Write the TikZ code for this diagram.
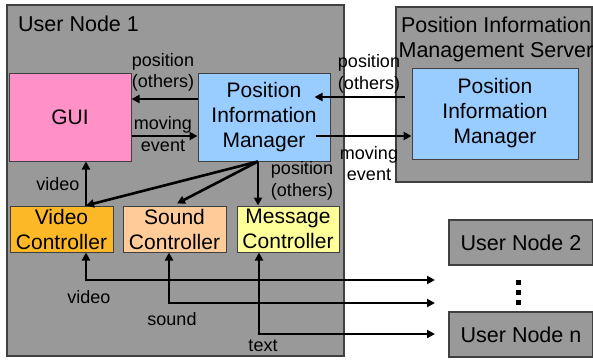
\documentclass[tikz,border=0pt]{standalone}
\usepackage{fontspec}
\setmainfont{Liberation Sans}
\usetikzlibrary{arrows.meta}
\definecolor{panelgray}{HTML}{999999}
\definecolor{edgegray}{HTML}{404040}
\definecolor{pimblue}{HTML}{99CCFF}
\definecolor{guipink}{HTML}{FF90C8}
\definecolor{vidorange}{HTML}{FDB827}
\definecolor{sndpeach}{HTML}{FFCC99}
\definecolor{msgyellow}{HTML}{FFFF99}
\tikzset{
  panel/.style={draw=edgegray, line width=1.2pt, fill=panelgray},
  unit/.style={draw=edgegray, line width=1pt, align=center, inner sep=0pt,
    font=\fontsize{21}{25}\selectfont},
  lbl/.style={align=center, inner sep=0pt, font=\fontsize{18}{21.5}\selectfont},
  title/.style={align=center, inner sep=0pt, font=\fontsize{21.5}{25}\selectfont},
  flow/.style={line width=2.6pt, -{Triangle[length=8pt,width=8pt]}},
  both/.style={line width=2.6pt, {Triangle[length=8pt,width=8pt]}-{Triangle[length=8pt,width=8pt]}},
}
\begin{document}
\begin{tikzpicture}[x=1pt,y=-1pt]
\useasboundingbox (0,0) rectangle (593,361);

% containers
\node[panel, minimum width=337, minimum height=351, inner sep=0pt] (un1) at (175.5,180.5) {};
\node[panel, minimum width=196, minimum height=175, inner sep=0pt] (srv) at (494,94.5) {};
\node[title, anchor=west] (un1t) at (18,24) {User Node 1};
\node[title] (srvt) at (496,39.5) {Position Information\\Management Server};

% components
\node[unit, fill=guipink, minimum width=122, minimum height=88] (gui) at (70,117) {GUI};
\node[unit, fill=pimblue, minimum width=132, minimum height=88] (pim) at (264,117) {Position\\Information\\Manager};
\node[unit, fill=pimblue, minimum width=166, minimum height=91] (spim) at (495,113.5) {Position\\Information\\Manager};
\node[unit, fill=vidorange, minimum width=103, minimum height=46] (vid) at (61.5,229) {Video\\Controller};
\node[unit, fill=sndpeach, minimum width=103, minimum height=46] (snd) at (174.5,229) {Sound\\Controller};
\node[unit, fill=msgyellow, minimum width=102, minimum height=46] (msg) at (288,229) {Message\\Controller};

% other user nodes
\node[panel, title, minimum width=144, minimum height=45] (un2) at (521,242.5) {User Node 2};
\node[panel, title, minimum width=144, minimum height=45] (unn) at (521,334.5) {User Node n};
\foreach \yy/\nm in {282/da,292/db,302/dc}
  \node[fill=black, minimum size=5pt, inner sep=0pt] (\nm) at (518,\yy) {};

% GUI <-> manager
\draw[flow] ([yshift=18pt]pim.west) -- ([yshift=18pt]gui.east);
\draw[flow] ([yshift=-19pt]gui.east) -- ([yshift=-19pt]pim.west);
\node[lbl] (l1) at (163,72.5) {position\\(others)};
\node[lbl] (l2) at (163,134) {moving\\event};

% manager <-> server
\draw[flow] ([xshift=-7pt,yshift=16.5pt]spim.west) -- ([xshift=-16pt,yshift=20pt]pim.east);
\draw[flow] ([xshift=-15pt,yshift=-19pt]pim.east) -- ([yshift=-22.5pt]spim.west);
\node[lbl] (l3) at (369,74) {position\\(others)};
\node[lbl] (l4) at (369,163.5) {moving\\event};

% manager fan-out to controllers
\coordinate (fan) at ([xshift=-6pt]pim.south);
\draw[flow] (fan) -- ([xshift=24.5pt]vid.north);
\draw[flow] (fan) -- ([xshift=2.5pt,yshift=2pt]snd.north);
\draw[flow] (fan) -- ([xshift=-30pt]msg.north);
\node[lbl] (l5) at (302,181) {position\\(others)};

% video controller to GUI
\draw[flow] ([xshift=24.5pt]vid.north) -- ([xshift=16pt]gui.south);
\node[lbl] (l6) at (58,184) {video};

% media links to other user nodes
\coordinate (ve) at (435,280);
\coordinate (se) at (435,303);
\coordinate (te) at (435,334);
\draw[both] ([xshift=24.5pt]vid.south) |- (ve);
\draw[both] ([xshift=-5.5pt]snd.south) |- (se);
\draw[both] ([xshift=-29pt]msg.south) |- (te);
\node[lbl] (l7) at (89,297) {video};
\node[lbl] (l8) at (172,319) {sound};
\node[lbl] (l9) at (263,346) {text};
\end{tikzpicture}
\end{document}
